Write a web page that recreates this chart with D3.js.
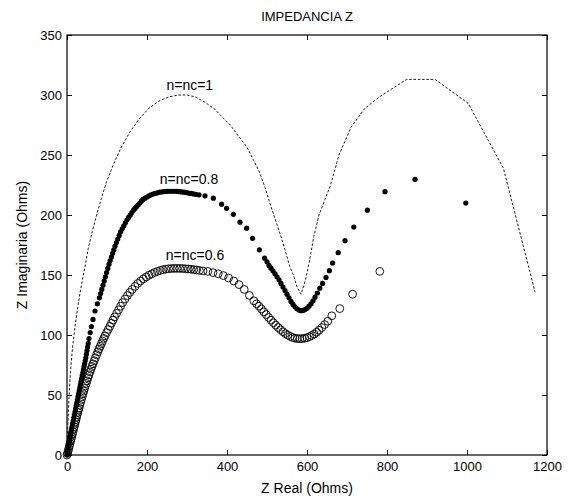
<!DOCTYPE html>
<html>
<head>
<meta charset="utf-8">
<script src="https://cdn.jsdelivr.net/npm/d3@7"></script>
<style>
  body { margin: 0; background: #fff; }
  svg { display: block; }
  text { font-family: Arial, "Liberation Sans", sans-serif; fill: #000; }
</style>
</head>
<body>
<svg id="chart" width="573" height="499"></svg>
<script>
// ---- data ----
const xTicks = [0, 200, 400, 600, 800, 1000, 1200];
const yTicks = [0, 50, 100, 150, 200, 250, 300, 350];

// n = nc = 1 (dashed line) : [Z real, Z imag]
const seriesN1 = [
  [0,0],[1,15],[3,32],[5,48],[7,60],[10,75],[14,90],[19,104],[25,119],[31,132],
  [38,145],[45,157],[53,172],[63,186],[74,200],[86,214],[99,228],[116,242],[135,256],
  [157,269],[180,280],[205,289],[230,295],[255,298.5],[280,300],[300,300],[320,298.5],
  [345,294],[370,288],[390,281],[408,275],[428,266],[449,257],[466,246],[482,235],
  [495,223],[507,210],[520,197],[532,185],[545,171],[557,157],[566,150],[575,140],
  [585,134],[592,141],[599,150],[608,165],[617,182],[630,200],[645,213],[658,224],
  [680,250],[710,273],[745,289],[782,298.6],[849,313],[920,313],[1003,293],[1091,239],[1170,136]
];

// n = nc = 0.8 (filled dots)
const seriesN08 = [
  [0,0],[1,1.5],[2,3],[3,5],[4,7],[5,9],[6,11],[7,13],[8,15],[9,17],[10,19],[11,21],
  [12.5,23.5],[14,26],[15.5,28.5],[17,31],[18.5,33.5],[20,36],[21.5,38.5],[23,41],
  [24.5,43.5],[26,46],[27.5,48.5],[29,51],[30.5,53.5],[32,56],[33.5,58.5],[35,61],
  [36.5,63.5],[38,66],[39.5,68.5],[41,71],[42.5,73.5],[44,76],[45.5,78.5],[47,81],
  [48.5,84],[50,87],[51.5,90],[53,93],[55,97],[58,102],[61,107],[65,113],[70,120],
  [76,126],[81,131],[84,134.5],[87,138],[90,141.5],[93,145],[96,148.5],[99,152],
  [102,155.5],[105,159],[108,162],[111,165],[114,168],[117,171],[120,174],[123.5,177],
  [127,180],[130.5,183],[134,186],[138,188.5],[142,191],[146,193.5],[150,196],[154,198],
  [158,200],[162,202],[166,204],[170,205.5],[174,207],[178,208.5],[182,210],[186,211.5],
  [190,213],[195,214],[200,215],[205,216],[210,216.8],[215,217.4],[220,218],[226,218.5],
  [232,219],[238,219.3],[244,219.5],[250,219.7],[256,219.8],[262,219.8],[268,219.8],
  [274,219.7],[280,219.5],[286,219.2],[292,219],[298,218.7],[304,218.3],[310,218],
  [316,217.6],[322,217.2],[330,216.8],[345,216],[366,214],[386.6,209],[399,205.6],
  [416,200.6],[432.5,194],[449,189],[464,180.6],[481,171],[494,164],[500,161],[505,158],
  [510,155.7],[515,153.5],[520,151],[525,148.5],[530,146],[535,143],[540,140],[545,137],
  [550,134],[555,131],[560,128],[565,125.5],[570,123.5],[575,121.8],[580,120.8],
  [585,120.3],[590,120.5],[595,121.2],[600,122.3],[605,124],[610,126],[615,128.5],
  [620,131.5],[626,135],[632,139],[639,143],[647.5,148],[656,153.6],[664,160],
  [678,168.6],[695,178.6],[717,190],[751,204],[795,219.4],[870,229.7],[997,210]
];

// n = nc = 0.6 (open circles)
const seriesN06 = [
  [0,0],[1.5,1.5],[3,3.5],[4.5,5.5],[6,7.5],[7.5,9.5],[9,11.5],[10.5,13.5],[12,15.5],
  [13.5,17.5],[15,19.5],[16.5,21.5],[18,23.5],[19.5,25.5],[21,27.5],[22.5,29.5],
  [24,31.5],[25.5,33.5],[27,35.5],[28.5,37.3],[30,39],[32,41.5],[34,44],[36,46.3],
  [38,48.6],[40,51],[42,53.3],[44,55.5],[46,57.6],[48,59.7],[50,61.8],[52.5,64.3],
  [55,66.8],[57.5,69.2],[60,71.5],[62.5,73.8],[65,76],[68,78.5],[71,81],[74,83.5],
  [77,86],[80,88.3],[83,90.6],[86,92.8],[89,95],[92,97.2],[95,99.3],[99,102],[103,104.6],
  [107,107.2],[111,109.8],[115,112.4],[119,115],[124,118],[129,121],[134,124],[139,127],
  [145,130],[151,132.8],[157,135.5],[163,138],[170,140.5],[177,143],[184,145],[191,146.8],
  [198,148.4],[205,149.8],[212,151],[219,152.1],[226,153],[233,153.8],[240,154.4],
  [247,154.9],[254,155.2],[261,155.4],[268,155.5],[275,155.5],[282,155.5],[289,155.4],
  [296,155.2],[303,155],[310,154.8],[317,154.5],[324,154.2],[331,153.8],[340,153.4],
  [352,153],[365,152],[378,151],[391,149.5],[404,147.5],[417,145],[430,142],[443,138],
  [456,133],[467,128.5],[474,126],[480,124],[486,121.7],[492,119.3],[498,117],[504,114.6],
  [510,112.3],[516,110.2],[522,108.2],[528,106.2],[534,104.4],[540,102.7],[546,101.2],
  [552,99.9],[558,98.8],[564,97.9],[570,97.3],[576,97],[582,96.9],[588,97],[594,97.3],
  [600,97.8],[606,98.6],[612,99.6],[618,100.8],[624,102.3],[630,104],[637,106.2],
  [644,108.7],[652,111.5],[662,116],[682,122],[714,134],[782,153]
];

// annotations: [text, Z real, Z imag]
const labels = [
  ["n=nc=1", 307, 304],
  ["n=nc=0.8", 305, 226],
  ["n=nc=0.6", 320, 162.5]
];

// ---- layout ----
const svg = d3.select("#chart");
const L = 67, R = 547, T = 35, B = 455;
const x = d3.scaleLinear().domain([0, 1200]).range([L, R]);
const y = d3.scaleLinear().domain([0, 350]).range([B, T]);

// axes (inward ticks on all four sides)
const gx = svg.append("g").attr("transform", `translate(0,${B})`)
  .call(d3.axisBottom(x).tickValues(xTicks).tickSize(-5).tickPadding(7).tickFormat(d3.format("d")));
const gxt = svg.append("g").attr("transform", `translate(0,${T})`)
  .call(d3.axisTop(x).tickValues(xTicks).tickSize(-5).tickFormat(""));
const gy = svg.append("g").attr("transform", `translate(${L},0)`)
  .call(d3.axisLeft(y).tickValues(yTicks).tickSize(-5).tickPadding(5).tickFormat(d3.format("d")));
const gyr = svg.append("g").attr("transform", `translate(${R},0)`)
  .call(d3.axisRight(y).tickValues(yTicks).tickSize(-5).tickFormat(""));

[gx, gxt, gy, gyr].forEach(g => {
  g.select(".domain").remove();
  g.selectAll(".tick line").attr("stroke", "#000").attr("stroke-width", 1);
  g.selectAll(".tick text").attr("font-size", 13).attr("font-family", "Arial, 'Liberation Sans', sans-serif").attr("fill", "#000");
});

svg.append("rect").attr("x", L).attr("y", T).attr("width", R - L).attr("height", B - T)
  .attr("fill", "none").attr("stroke", "#000").attr("stroke-width", 1.2);

// dashed line n=1
svg.append("path").datum(seriesN1)
  .attr("d", d3.line().x(d => x(d[0])).y(d => y(d[1])))
  .attr("fill", "none").attr("stroke", "#000").attr("stroke-width", 0.9)
  .attr("stroke-dasharray", "2.5,1.8");

// open circles n=0.6
svg.append("g").selectAll("circle").data(seriesN06).join("circle")
  .attr("cx", d => x(d[0])).attr("cy", d => y(d[1])).attr("r", 3.9)
  .attr("fill", "none").attr("stroke", "#000").attr("stroke-width", 0.9);

// filled dots n=0.8
svg.append("g").selectAll("circle").data(seriesN08).join("circle")
  .attr("cx", d => x(d[0])).attr("cy", d => y(d[1])).attr("r", 2.6)
  .attr("fill", "#000");

// annotations
svg.append("g").selectAll("text").data(labels).join("text")
  .attr("x", d => x(d[1])).attr("y", d => y(d[2]))
  .attr("text-anchor", "middle").attr("font-size", 14).text(d => d[0]);

// title & axis labels
svg.append("text").attr("x", (L + R) / 2).attr("y", 21).attr("text-anchor", "middle")
  .attr("font-size", 13).text("IMPEDANCIA Z");
svg.append("text").attr("x", (L + R) / 2).attr("y", 493).attr("text-anchor", "middle")
  .attr("font-size", 14).text("Z Real (Ohms)");
svg.append("text").attr("transform", `translate(27,${(T + B) / 2}) rotate(-90)`)
  .attr("text-anchor", "middle").attr("font-size", 14).text("Z Imaginaria (Ohms)");
</script>
</body>
</html>
